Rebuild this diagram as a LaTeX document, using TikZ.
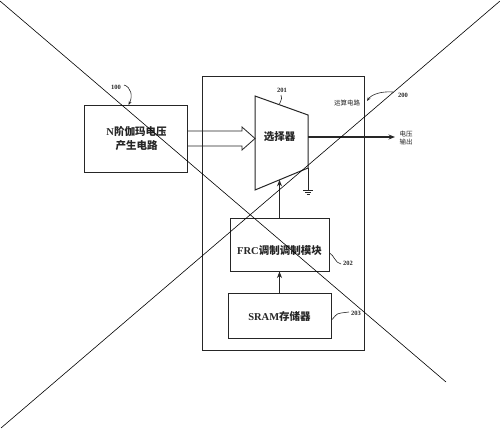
\documentclass[tikz,border=0pt]{standalone}
\usepackage{fontspec}
\setmainfont{Liberation Serif}
\newfontfamily\cjk{Noto Sans CJK SC}
\usetikzlibrary{arrows.meta}
\begin{document}
\begin{tikzpicture}[x=1pt,y=-1pt,
  ln/.style={draw=black!85,line width=1pt},
  blk/.style={ln,inner sep=0pt},
  arr/.style={ln,line width=1.2pt,-{Stealth[length=6.5pt,width=5pt]}},
  thin/.style={draw=black!85,line width=0.6pt},
  big/.style={font=\fontsize{10.5}{13}\selectfont\bfseries,text=black!85,inner sep=0pt},
  small/.style={font=\fontsize{6.5}{8}\selectfont,text=black!85,inner sep=0pt},
  num/.style={font=\fontsize{6.5}{7}\selectfont\bfseries,text=black!85,inner sep=0pt}]
\useasboundingbox (0,0) rectangle (500,429);
\fill[white] (0,0) rectangle (500,429);

% blocks
\node[blk,minimum width=103pt,minimum height=67pt] (b100) at (135.5,138.5) {};
\node[big,align=center] (t100) at (136.5,138.5) {N{\cjk 阶伽玛电压}\\[1pt]{\cjk 产生电路}};
\node[blk,minimum width=162pt,minimum height=274pt] (b200) at (283,213) {};
\node[blk,minimum width=99pt,minimum height=53pt] (frc) at (279.5,244.5) {};
\node[big] (tfrc) at (279.5,251) {FRC{\cjk 调制调制模块}};
\node[blk,minimum width=103pt,minimum height=45pt] (sram) at (279.5,315.5) {};
\node[big] (tsram) at (279.5,316) {SRAM{\cjk 存储器}};

% selector trapezoid
\coordinate (s1) at (255,96);
\coordinate (s2) at (308,115);
\coordinate (s3) at (308,168);
\coordinate (s4) at (255,190);
\draw[ln] (s1) -- (s2) -- (s3) -- (s4) -- cycle;
\node[big] (tsel) at (279.5,137) {\cjk 选择器};
\coordinate (sb) at (279.5,179.8);
\coordinate (so) at (308,137);

% hollow double arrow
\coordinate (h1) at (b100.east |- 0,131);
\coordinate (h2) at (b100.east |- 0,146);
\draw[ln,line width=0.8pt] (h1) -- (242,131) -- (242,127) -- (255,138.5) -- (242,150) -- (242,146) -- (h2);

% connections
\draw[arr] (frc.north) -- (sb);
\draw[arr] (sram.north) -- (frc.south);
\coordinate (out) at (395,137);
\draw[arr,line width=1.3pt] (so) -- (out);
\node[small,align=center] (tout) at (406,138.5) {\cjk 电压\\[0pt]\cjk 输出};

% ground
\coordinate (gnd) at (308,190.5);
\draw[ln,line width=0.8pt] (s3) -- (gnd);
\draw[thin] ([xshift=-5pt]gnd) -- ([xshift=5pt]gnd);
\draw[thin] ([xshift=-3pt,yshift=-2pt]gnd) -- ([xshift=3pt,yshift=-2pt]gnd);
\draw[thin] ([xshift=-1.5pt,yshift=-4pt]gnd) -- ([xshift=1.5pt,yshift=-4pt]gnd);

% labels
\node[small] (t200name) at (347,103) {\cjk 运算电路};
\node[num] (n100) at (116,87) {100};
\draw[thin,-{Stealth[length=4pt,width=3pt]}] (124,85) .. controls (131,87) and (133,96) .. (128.5,105);
\node[num] (n200) at (403,95) {200};
\draw[thin,-{Stealth[length=4pt,width=3pt]}] (393,92) .. controls (380,91) and (371,95) .. (367,101);
\node[num] (n201) at (282,90) {201};
\draw[thin] (281,95) .. controls (282,98) .. (279.5,104);
\node[num] (n202) at (348,263) {202};
\draw[thin] (frc.east |- 0,253) .. controls (334,255) and (335,263) .. (341,264);
\node[num] (n203) at (356,313) {203};
\draw[thin] (sram.east |- 0,320) .. controls (334,318) and (336,313) .. (341,313) -- (349,312);

% crossing lines
\draw[black,line width=0.6pt] (0,1) -- (446,382);
\draw[black,line width=0.6pt] (500,1) -- (1,428);
\end{tikzpicture}
\end{document}
